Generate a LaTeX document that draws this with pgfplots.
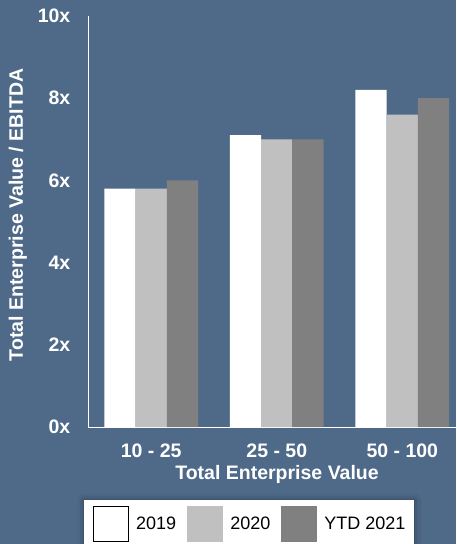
\documentclass[border=0pt]{standalone}
\usepackage{pgfplots}
\pgfplotsset{compat=1.18}
\usetikzlibrary{shadows.blur}
\usepackage{fontspec}
\setmainfont{Liberation Sans}
\definecolor{bg}{RGB}{79,106,137}
\definecolor{ga}{RGB}{192,192,192}
\definecolor{gb}{RGB}{128,128,128}
\newcommand\lbl{\fontsize{19.5}{22}\selectfont\bfseries}
\makeatletter
\tikzset{noshadow/.code={\let\tikz@preactions\pgfutil@empty}}
\makeatother
\begin{document}
\begin{tikzpicture}
\useasboundingbox (0pt,0pt) rectangle (456pt,544pt);
\fill[bg] (0pt,0pt) rectangle (456pt,544pt);
\clip (0pt,0pt) rectangle (456pt,544pt);
\begin{axis}[
  scale only axis, width=367.5pt, height=411pt,
  anchor=south west, at={(88.5pt,117pt)},
  xmin=-0.5, xmax=2.428, ymin=0, ymax=10,
  axis x line=bottom, axis y line=left,
  axis line style={-, white, line width=1pt},
  major tick length=0pt,
  ytick={0,2,4,6,8,10},
  yticklabels={0x,2x,4x,6x,8x,10x},
  yticklabel style={font=\lbl, text=white, inner sep=0pt, anchor=east, xshift=-18pt},
  xtick={0,1,2},
  xticklabels={10 - 25, 25 - 50, 50 - 100},
  xticklabel style={font=\lbl, text=white, inner sep=0pt, anchor=north, yshift=-17pt},
  xlabel={Total Enterprise Value},
  xlabel style={font=\lbl, text=white, inner sep=0pt, at={(axis description cs:0.513,0)}, anchor=north, yshift=-38pt},
  ylabel={Total Enterprise Value / EBITDA},
  ylabel style={font=\lbl, text=white, inner sep=0pt, at={(axis description cs:-0.192,0.516)}, anchor=center, rotate=0},
  ybar=0pt, bar width=31.3pt,
  legend columns=3,
  legend cell align=left,
  legend style={at={(axis description cs:-0.0122,-0.1776)}, anchor=north west,
    draw=none, fill=white, font=\fontsize{18}{20}\selectfont, text=black,
    inner xsep=9pt, inner ysep=6pt, nodes={inner sep=0pt, noshadow},
    column sep=7pt,
    /tikz/every even column/.append style={column sep=11pt},
    blur shadow={shadow xshift=0pt, shadow yshift=0pt, shadow blur radius=6pt, shadow opacity=45}},
]
\addplot[fill=white, draw=none,
  legend image code/.code={\draw[noshadow, fill=white, draw=black, line width=1pt] (0pt,-17.5pt) rectangle (35pt,17.5pt);}]
  coordinates {(0,5.8) (1,7.1) (2,8.2)};
\addplot[fill=ga, draw=none,
  legend image code/.code={\fill[noshadow, ga] (0pt,-18pt) rectangle (36pt,18pt);}]
  coordinates {(0,5.8) (1,7.0) (2,7.6)};
\addplot[fill=gb, draw=none,
  legend image code/.code={\fill[noshadow, gb] (0pt,-18pt) rectangle (36pt,18pt);}]
  coordinates {(0,6.0) (1,7.0) (2,8.0)};
\legend{2019, 2020, {YTD 2021\hspace{16pt}}}
\end{axis}
\end{tikzpicture}
\end{document}
